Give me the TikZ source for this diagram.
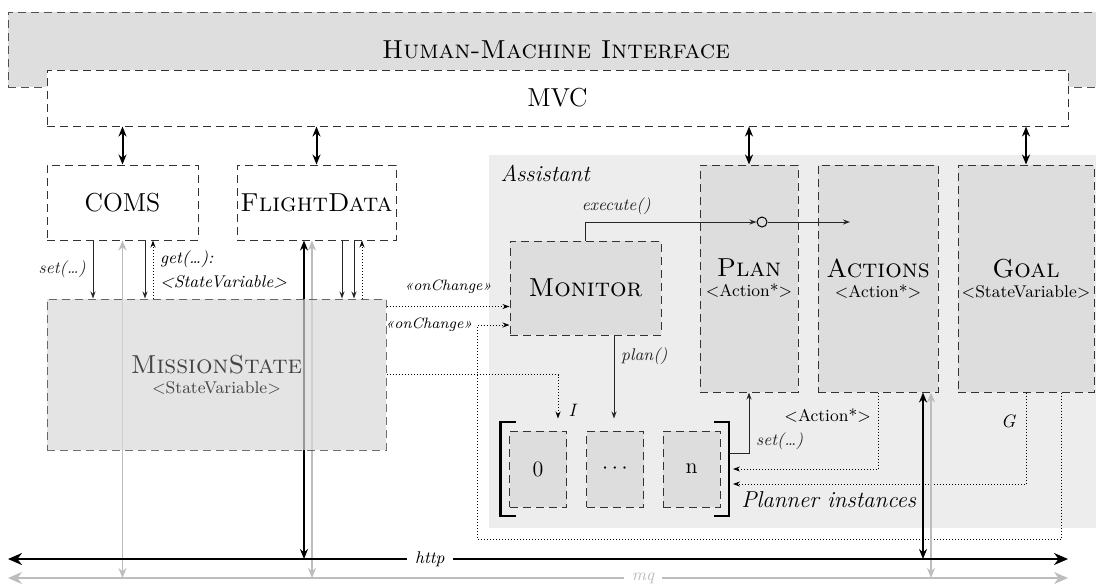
\documentclass[tikz,border=0pt]{standalone}
\usetikzlibrary{arrows.meta,calc,fit}
\definecolor{hmigray}{HTML}{DEDEDE}
\definecolor{asstgray}{HTML}{EDEDED}
\definecolor{boxgray}{HTML}{DDDDDD}
\definecolor{msgray}{HTML}{D8D8D8}
\definecolor{busgray}{HTML}{BDBDBD}
\definecolor{edgegray}{HTML}{333333}
\newcommand{\bigtxt}{\fontsize{13}{15}\selectfont}
\newcommand{\subtxt}[1]{{\fontsize{8.5}{10}\selectfont #1}}
\begin{document}
\begin{tikzpicture}[x=0.5pt,y=-0.5pt,
  module/.style={draw=edgegray,dash pattern=on 4pt off 2.5pt,line width=0.5pt,
    align=center,font=\bigtxt,inner sep=0pt},
  comp/.style={module,fill=boxgray},
  link/.style={{Stealth[length=5pt,width=4pt]}-{Stealth[length=5pt,width=4pt]},line width=1pt},
  wire/.style={link,busgray,line width=0.8pt},
  call/.style={-{Stealth[length=3.5pt,width=2.5pt]},line width=0.5pt,black!85},
  event/.style={call,densely dotted,black},
  bus/.style={{Stealth[length=7pt,width=6pt]}-{Stealth[length=7pt,width=6pt]},line width=1.2pt},
  bracket/.style={line width=1.2pt},
  lbl/.style={font=\fontsize{8.5}{10}\selectfont\itshape},
  evlbl/.style={font=\fontsize{7.5}{9}\selectfont\itshape},
  title/.style={font=\fontsize{11.5}{13}\selectfont\itshape}
]
  \useasboundingbox (0,0) rectangle (1096,586);
  % HMI and MVC
  \node[module,fill=hmigray,draw=edgegray!85,minimum width=548pt,minimum height=37.5pt] (hmi) at (556,49.5) {\textsc{Human-Machine Interface}};
  \node[module,fill=white,minimum width=510.5pt,minimum height=28pt] (mvc) at (557.5,98) {MVC};
  % Assistant area
  \node[fill=asstgray,minimum width=307.5pt,minimum height=186.5pt] (assist) at (796.5,341.5) {};
  \node[title,anchor=base west] (assistlbl) at ($(assist.north west)+(5,27)$) {Assistant};
  % modules
  \node[module,fill=white,minimum width=75.5pt,minimum height=37.5pt] (coms) at (122.5,202.5) {COMS};
  \node[module,fill=white,minimum width=79.5pt,minimum height=37.5pt] (fdata) at (316.5,202.5) {\textsc{FlightData}};
  \node[comp,minimum width=75.5pt,minimum height=47pt] (monitor) at (585.5,288) {\textsc{Monitor}};
  \node[comp,minimum width=49pt,minimum height=113.5pt] (plan) at (749,278.5) {\textsc{Plan}\\[-5pt]\subtxt{<Action*>}};
  \node[comp,minimum width=60pt,minimum height=113.5pt] (actions) at (878,278.5) {\textsc{Actions}\\[-5pt]\subtxt{<Action*>}};
  \node[comp,minimum width=68pt,minimum height=113.5pt] (goal) at (1026,278.5) {\textsc{Goal}\\[-5pt]\subtxt{<StateVariable>}};
  % planner instances
  \foreach \name/\x/\t in {pl0/538/0,pldots/615/{$\cdots$},pln/691.5/n}
    \node[comp,font=\fontsize{11}{13}\selectfont,minimum width=28.5pt,minimum height=38pt] (\name) at (\x,469) {\t};
  \node[fit=(pl0)(pln),inner sep=4pt] (planners) {};
  \draw[bracket] ($(planners.north west)+(15,0)$) -- (planners.north west) -- (planners.south west) -- ++(15,0);
  \draw[bracket] ($(planners.north east)+(-15,0)$) -- (planners.north east) -- (planners.south east) -- ++(-15,0);
  \node[title,anchor=base west,inner sep=0pt] (plannerlbl) at ($(planners.south east)+(12,-8)$) {Planner instances};
  % bus ends
  \coordinate (httpW) at (8,559);
  \coordinate (httpE) at (1068,559);
  \coordinate (mqW) at (8,578);
  \coordinate (mqE) at (1068,578);
  % MVC links
  \draw[link] (coms.north) -- (coms.north |- mvc.south);
  \draw[link] (fdata.north) -- (fdata.north |- mvc.south);
  \draw[link] (plan.north) -- (plan.north |- mvc.south);
  \draw[link] (goal.north) -- (goal.north |- mvc.south);
  % lines passing behind the mission state
  \draw[wire] (coms.south) -- (coms.south |- mqW);
  \coordinate (fLink) at ($(fdata.south)+(-12.5,0)$);
  \draw[link] (fLink) -- (fLink |- httpW);
  \coordinate (fWire) at ($(fdata.south)+(-4.5,0)$);
  \draw[wire] (fWire) -- (fWire |- mqW);
  \node[module,fill=msgray,opacity=0.7,minimum width=169.5pt,minimum height=75.5pt] (mstate) at (216.5,374.5) {\textsc{MissionState}\\[-5pt]\subtxt{<StateVariable>}};
  % COMS <-> mission state
  \coordinate (cSet) at ($(coms.south)+(-29.5,0)$);
  \draw[call] (cSet) -- (cSet |- mstate.north) node[lbl,midway,left] {set(\dots)};
  \coordinate (cPut) at ($(coms.south)+(22.5,0)$);
  \draw[call] (cPut) -- (cPut |- mstate.north);
  \coordinate (cGet) at ($(coms.south)+(30.5,0)$);
  \draw[event] (cGet |- mstate.north) -- (cGet) node[lbl,font=\fontsize{8.5}{12}\selectfont\itshape,midway,right,align=left] {get(\dots):\\<StateVariable>};
  % FlightData <-> mission state
  \coordinate (fPutA) at ($(fdata.south)+(25.5,0)$);
  \draw[call] (fPutA) -- (fPutA |- mstate.north);
  \coordinate (fPutB) at ($(fdata.south)+(37.5,0)$);
  \draw[call] (fPutB) -- (fPutB |- mstate.north);
  \coordinate (fGet) at ($(fdata.south)+(45.5,0)$);
  \draw[event] (fGet |- mstate.north) -- (fGet);
  % change events
  \coordinate (chgA) at ($(mstate.north east)+(0,8)$);
  \draw[event] (chgA) -- (chgA -| monitor.west) node[evlbl,midway,above,yshift=3pt] {\guillemotleft onChange\guillemotright};
  \coordinate (gChg) at ($(goal.south)+(35,0)$);
  \coordinate (loopSW) at (477,539);
  \coordinate (chgB) at ($(monitor.west)+(0,37)$);
  \draw[event] (gChg) -- (gChg |- loopSW) -- (loopSW) |- node[evlbl,left,inner sep=2pt] {\guillemotleft onChange\guillemotright} (chgB);
  % initial state and planning
  \coordinate (initIn) at ($(pl0.north)+(20,-12)$);
  \draw[event] (mstate.east) -| (initIn) node[lbl,font=\fontsize{9}{11}\selectfont\itshape,pos=1,anchor=south west,xshift=4pt,inner sep=1pt] {I};
  \coordinate (planOut) at ($(monitor.south)+(28.5,0)$);
  \draw[call] (planOut) -- (planOut |- initIn) node[lbl,pos=0.25,right] {plan()};
  \coordinate (setOut) at ($(planners.east)+(0,-16)$);
  \draw[call] (setOut) -| node[lbl,pos=0.6,right] {set(\dots)} (plan.south);
  \coordinate (actIn) at ($(planners.east)+(4,0)$);
  \draw[event] (actions.south) |- node[pos=0.15,left,font=\fontsize{8.5}{10}\selectfont] {<Action*>} (actIn);
  \coordinate (goalIn) at ($(planners.east)+(4,15)$);
  \draw[event] (goal.south) |- node[lbl,font=\fontsize{9}{11}\selectfont\itshape,pos=0.16,left,inner xsep=5pt] {G} (goalIn);
  % execution
  \node[draw,circle,minimum size=5pt,inner sep=0pt,line width=0.5pt] (junction) at (762,222) {};
  \draw[call] (monitor.north) |- node[lbl,pos=0.59,above] {execute()} (junction.west);
  \coordinate (execEnd) at (850,222);
  \draw[call] (junction.east) -- (execEnd);
  % actions <-> buses
  \coordinate (aLink) at ($(actions.south)+(45,0)$);
  \draw[link] (aLink) -- (aLink |- httpW);
  \coordinate (aWire) at ($(actions.south)+(53,0)$);
  \draw[wire] (aWire) -- (aWire |- mqW);
  % buses
  \draw[bus] (httpW) -- node[lbl,fill=white,inner xsep=4pt,inner ysep=1pt,pos=0.398] {http} (httpE);
  \draw[bus,busgray,line width=0.9pt] (mqW) -- node[lbl,fill=white,text=busgray,inner xsep=4pt,inner ysep=1pt,pos=0.599] {mq} (mqE);
\end{tikzpicture}
\end{document}
